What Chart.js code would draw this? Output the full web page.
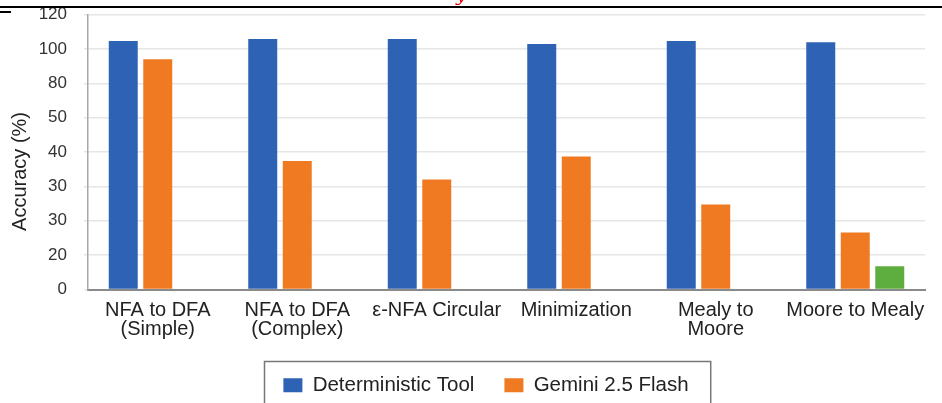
<!DOCTYPE html>
<html><head><meta charset="utf-8">
<script src="https://cdn.jsdelivr.net/npm/chart.js@4/dist/chart.umd.min.js"></script>
<style>
html,body{margin:0;padding:0;background:#fff;}
#wrap{position:relative;width:942px;height:403px;overflow:hidden;background:#fff;}
#topline{position:absolute;left:0;top:6px;width:942px;height:2px;background:#000;}
#topmark{position:absolute;left:0;top:11px;width:11px;height:2px;background:#000;}
#redy{position:absolute;left:456px;top:-14px;color:#e00;font:italic 18px "DejaVu Serif",serif;line-height:18px;}
</style></head><body>
<div id="wrap"><canvas id="c" width="942" height="403"></canvas><div id="topline"></div><div id="topmark"></div><span id="redy">y</span></div>
<script>
const categories = [['NFA to DFA','(Simple)'],['NFA to DFA','(Complex)'],'ε-NFA Circular','Minimization',['Mealy to','Moore'],'Moore to Mealy'];
const yTickLabels = ['0','20','30','30','40','50','80','100','120'];
const seriesNames = ['Deterministic Tool','Gemini 2.5 Flash',''];
const deterministicTool = [7.23,7.29,7.29,7.14,7.23,7.19];
const gemini25Flash = [6.70,3.74,3.20,3.87,2.47,1.66];
const thirdSeries = [null,null,null,null,null,0.68];

const FONT = '"Liberation Sans", Arial, sans-serif';

const legendPlace = {
  id:'legendPlace',
  afterLayout(chart){
    const lg = chart.legend; if(!lg) return;
    const w = lg.right - lg.left, h = lg.bottom - lg.top;
    lg.left = 486 - w/2; lg.right = lg.left + w;
    lg.top = 345; lg.bottom = 345 + h;
  },
  afterDraw(chart){
    const lg = chart.legend; if(!lg) return;
    const hb = lg.legendHitBoxes; if(!hb || !hb.length) return;
    const ctx = chart.ctx;
    const last = hb[hb.length-1];
    const l = hb[0].left - 19, r = last.left + last.width + 22;
    ctx.save(); ctx.strokeStyle = '#777'; ctx.lineWidth = 1.5;
    ctx.strokeRect(Math.round(l)+0.5, 361.5, r - l, 60);
    ctx.restore();
  }
};

new Chart(document.getElementById('c'), {
  type:'bar',
  data:{
    labels: categories,
    datasets:[
      {label: seriesNames[0], data: deterministicTool, backgroundColor:'#2D62B4'},
      {label: seriesNames[1], data: gemini25Flash, backgroundColor:'#EF7A22'},
      {label: seriesNames[2], data: thirdSeries, backgroundColor:'#5DAD3F'}
    ]
  },
  options:{
    responsive:false, animation:false, devicePixelRatio:1,
    datasets:{bar:{categoryPercentage:0.742, barPercentage:0.84}},
    layout:{padding:{top:14.5, right:17, bottom:0, left:0}},
    plugins:{
      legend:{
        position:'bottom',
        labels:{
          boxWidth:19, boxHeight:14, padding:30, color:'#222',
          font:{family:FONT, size:20.5},
          filter:(item)=> item.text !== ''
        }
      },
      tooltip:{enabled:false}
    },
    scales:{
      x:{
        grid:{display:true, color:'rgba(0,0,0,0)', drawTicks:false},
        border:{display:true, color:'#8a8a8a', width:2},
        ticks:{color:'#222', font:{family:FONT, size:20, lineHeight:0.95}, padding:11, autoSkip:false, maxRotation:0, minRotation:0},
        afterFit(scale){ const lg = scale.chart.legend; scale.height = 403 - 289.5 - (lg ? lg.height : 0); }
      },
      y:{
        min:0, max:8,
        grid:{color:'#e6e6e6', lineWidth:1.5, tickLength:4},
        border:{display:true, color:'#a8a8a8', width:1.5},
        ticks:{stepSize:1, color:'#333', font:{family:FONT, size:17}, padding:17,
          callback:(v)=> yTickLabels[v]},
        title:{display:true, text:'Accuracy (%)       ', color:'#222', font:{family:FONT, size:20}, padding:{top:8, bottom:0}},
        afterFit(scale){ scale.width = 88; scale.paddingTop = 0; scale.paddingBottom = 0; }
      }
    }
  },
  plugins:[legendPlace]
});
</script>
</body></html>
